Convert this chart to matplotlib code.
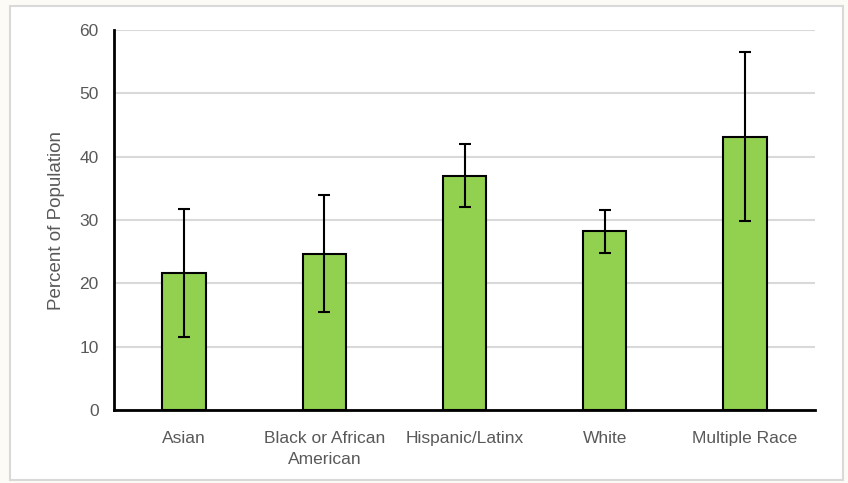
import numpy as np
import matplotlib.pyplot as plt
from matplotlib.patches import Rectangle

categories = ["Asian", "Black or African\nAmerican", "Hispanic/Latinx", "White", "Multiple Race"]
values = [21.6, 24.6, 37.0, 28.2, 43.1]
err_upper = [31.8, 34.0, 42.0, 31.6, 56.5]
err_lower = [11.5, 15.5, 32.1, 24.8, 29.9]
yticks = [0, 10, 20, 30, 40, 50, 60]

plt.rcParams['font.family'] = ['Liberation Sans', 'DejaVu Sans']

fig = plt.figure(figsize=(8.48, 4.83), dpi=100)
fig.patch.set_facecolor('#fdfbf6')
# outer chart frame
fig.patches.append(Rectangle((10 / 848, 3 / 483), 833 / 848, 474 / 483, transform=fig.transFigure,
                             facecolor='white', edgecolor='#d9d9d9', linewidth=1.5, zorder=-5))

ax = fig.add_axes([114 / 848, 73 / 483, 701 / 848, 380 / 483])
ax.set_facecolor('none')

x = np.arange(len(categories))
vals = np.array(values)
yerr = np.array([vals - np.array(err_lower), np.array(err_upper) - vals])
ax.bar(x, vals, width=0.31, color='#92d050', edgecolor='black', linewidth=1.5, zorder=3)
ax.errorbar(x, vals, yerr=yerr, fmt='none', ecolor='black', elinewidth=1.5,
            capsize=4, capthick=1.5, zorder=4)

ax.set_xlim(-0.5, len(categories) - 0.5)
ax.set_ylim(0, 60)
ax.set_yticks(yticks)
ax.set_xticks(x)
ax.set_xticklabels(categories, fontsize=12.5, color='#595959', linespacing=1.55)
ax.tick_params(axis='y', labelsize=12.5, labelcolor='#595959', length=0, pad=11)
ax.tick_params(axis='x', length=0, pad=15)
ax.yaxis.grid(True, color='#d9d9d9', linewidth=1.5, zorder=0)
ax.set_axisbelow(True)
for s in ['top', 'right']:
    ax.spines[s].set_visible(False)
for s in ['left', 'bottom']:
    ax.spines[s].set_color('black')
    ax.spines[s].set_linewidth(2)
ax.set_ylabel("Percent of Population", fontsize=13.5, color='#595959', labelpad=10)

fig.savefig("out.png", dpi=100, facecolor=fig.get_facecolor())
